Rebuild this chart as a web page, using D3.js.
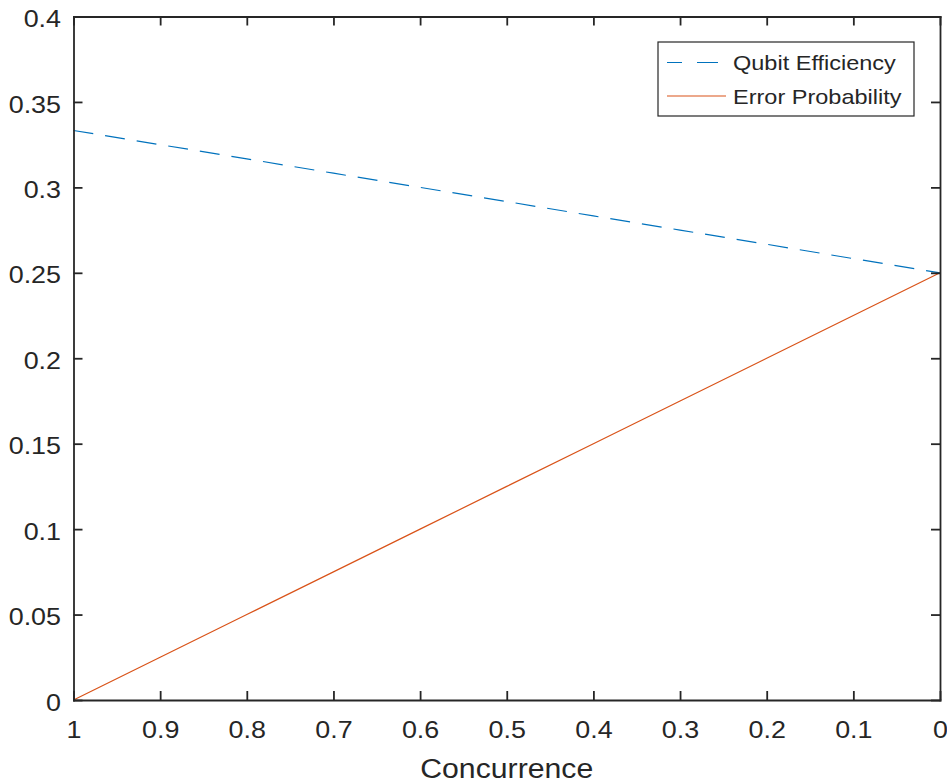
<!DOCTYPE html>
<html>
<head>
<meta charset="utf-8">
<script src="https://cdn.jsdelivr.net/npm/d3@7"></script>
<style>
  body { margin: 0; background: #fff; }
  text { font-family: "Liberation Sans", Arial, sans-serif; fill: #262626; }
</style>
</head>
<body>
<div id="vis"></div>
<script>
const FRAME_WIDTH = 947;
const FRAME_HEIGHT = 782;
const MARGINS = {left: 73.5, right: 7, top: 16.5, bottom: 82};

// data
const concurrence = [1, 0.9, 0.8, 0.7, 0.6, 0.5, 0.4, 0.3, 0.2, 0.1, 0];
const qubitEfficiency = [0.3333, 0.325, 0.3167, 0.3083, 0.3, 0.2917, 0.2833, 0.275, 0.2667, 0.2583, 0.25];
const errorProbability = [0, 0.025, 0.05, 0.075, 0.1, 0.125, 0.15, 0.175, 0.2, 0.225, 0.25];
const xTicks = [1, 0.9, 0.8, 0.7, 0.6, 0.5, 0.4, 0.3, 0.2, 0.1, 0];
const yTicks = [0, 0.05, 0.1, 0.15, 0.2, 0.25, 0.3, 0.35, 0.4];
const seriesNames = ["Qubit Efficiency", "Error Probability"];
const seriesColors = ["#0072BD", "#D95319"];

const VIS_WIDTH = FRAME_WIDTH - MARGINS.left - MARGINS.right;
const VIS_HEIGHT = FRAME_HEIGHT - MARGINS.top - MARGINS.bottom;
const STRETCH = 1.12; // the original text looks a bit wide

const FRAME = d3.select("#vis")
  .append("svg")
    .attr("width", FRAME_WIDTH)
    .attr("height", FRAME_HEIGHT);

// reversed x axis, 1 on the left
const X_SCALE = d3.scaleLinear().domain([1, 0]).range([0, VIS_WIDTH]);
const Y_SCALE = d3.scaleLinear().domain([0, 0.4]).range([VIS_HEIGHT, 0]);

const g = FRAME.append("g")
  .attr("transform", "translate(" + MARGINS.left + "," + MARGINS.top + ")");

const fmt = (d) => String(+d.toFixed(2));

// widen a text horizontally around its anchor point
function widen(sel) {
  sel.attr("transform", function() {
    const x = +this.getAttribute("x") || 0;
    return "translate(" + x + ",0) scale(" + STRETCH + ",1) translate(" + (-x) + ",0)";
  });
}

// lines first, axes drawn on top
const line = (vals) => d3.line()
  .x((d, i) => X_SCALE(concurrence[i]))
  .y((d) => Y_SCALE(d))(vals);

g.append("path")
  .attr("d", line(qubitEfficiency))
  .attr("fill", "none")
  .attr("stroke", seriesColors[0])
  .attr("stroke-width", 1.2)
  .attr("stroke-dasharray", "20,12");

g.append("path")
  .attr("d", line(errorProbability))
  .attr("fill", "none")
  .attr("stroke", seriesColors[1])
  .attr("stroke-width", 1.2);

// axes, MATLAB-style inward ticks on all four sides
const TICK = 9;
function styleAxis(sel) {
  sel.attr("font-family", null).attr("font-size", null);
  sel.selectAll("path").attr("stroke", "#262626").attr("stroke-width", 1.8);
  sel.selectAll("line").attr("stroke", "#262626").attr("stroke-width", 1.8);
  sel.selectAll("text").attr("font-size", "24px").style("fill", "#262626");
}

const xAxis = g.append("g")
  .attr("transform", "translate(0," + VIS_HEIGHT + ")")
  .call(d3.axisBottom(X_SCALE).tickValues(xTicks).tickFormat(fmt)
        .tickSizeInner(-TICK).tickSizeOuter(0))
  .call(styleAxis);
xAxis.selectAll("text").attr("y", 38).attr("dy", 0).call(widen);

g.append("g")
  .call(d3.axisTop(X_SCALE).tickValues(xTicks).tickFormat("")
        .tickSizeInner(-TICK).tickSizeOuter(0))
  .call(styleAxis);

const yAxis = g.append("g")
  .call(d3.axisLeft(Y_SCALE).tickValues(yTicks).tickFormat(fmt)
        .tickSizeInner(-TICK).tickSizeOuter(0))
  .call(styleAxis);
yAxis.selectAll("text").attr("x", -12.5).attr("dy", "0.42em").call(widen);

g.append("g")
  .attr("transform", "translate(" + VIS_WIDTH + ",0)")
  .call(d3.axisRight(Y_SCALE).tickValues(yTicks).tickFormat("")
        .tickSizeInner(-TICK).tickSizeOuter(0))
  .call(styleAxis);

g.selectAll(".domain").attr("stroke-linecap", "square");

// x label
g.append("text")
  .attr("x", VIS_WIDTH / 2)
  .attr("y", VIS_HEIGHT + 78)
  .attr("text-anchor", "middle")
  .attr("font-size", "27px")
  .text("Concurrence")
  .call(widen);

// legend
const LEG = {x: 658 - MARGINS.left, y: 42 - MARGINS.top, w: 256, h: 74};
const legend = g.append("g").attr("transform", "translate(" + LEG.x + "," + LEG.y + ")");
legend.append("rect")
  .attr("width", LEG.w).attr("height", LEG.h)
  .attr("fill", "#fff").attr("stroke", "#262626").attr("stroke-width", 1.2);

legend.selectAll("line.key")
  .data(seriesNames)
  .enter()
  .append("line")
    .attr("class", "key")
    .attr("x1", 9).attr("x2", 68)
    .attr("y1", (d, i) => 20.5 + i * 33.5)
    .attr("y2", (d, i) => 20.5 + i * 33.5)
    .attr("stroke", (d, i) => seriesColors[i])
    .attr("stroke-width", 1.2)
    .attr("stroke-dasharray", (d, i) => i === 0 ? "15,15,21,100" : null);

legend.selectAll("text.key")
  .data(seriesNames)
  .enter()
  .append("text")
    .attr("class", "key")
    .attr("x", 75)
    .attr("y", (d, i) => 28.5 + i * 33.5)
    .attr("font-size", "21px")
    .text((d) => d)
    .call(widen);
</script>
</body>
</html>
